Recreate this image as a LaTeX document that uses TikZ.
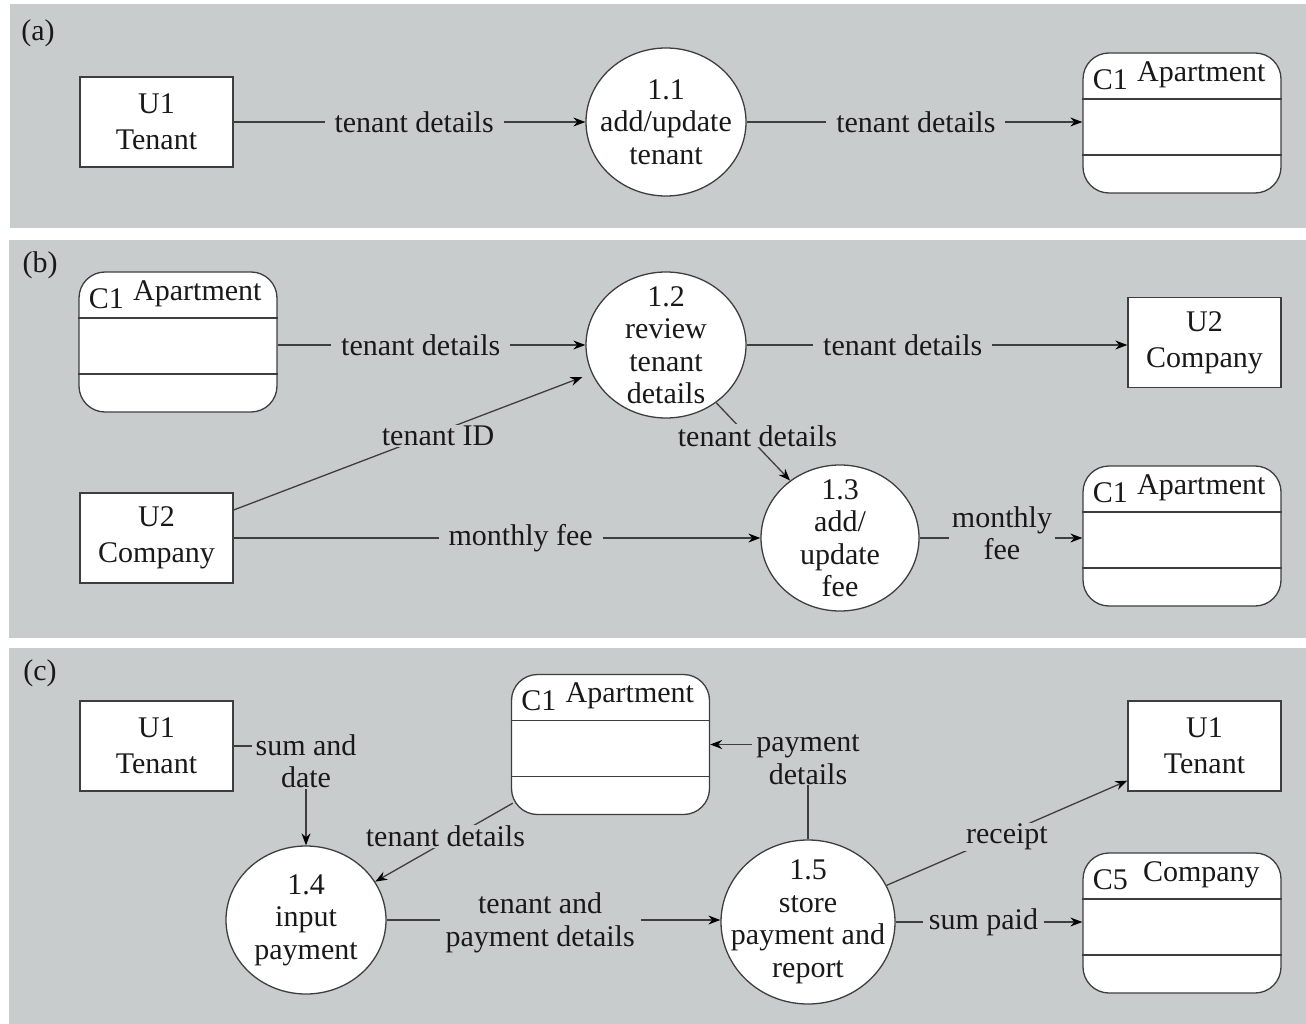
\documentclass[tikz,border=0pt]{standalone}
\usepackage{fontspec}
\setmainfont{Liberation Serif}
\usetikzlibrary{arrows.meta,shapes.geometric,calc}
\definecolor{panel}{RGB}{201,204,205}
\definecolor{ink}{RGB}{62,62,62}
\definecolor{txt}{RGB}{25,25,25}
\newcommand\dfdstore[5]{%
  \node[store] (#1) at (#2,#3) {};
  \draw[sline] ([yshift=24pt]#1.west) -- ([yshift=24pt]#1.east);
  \draw[sline] ([yshift=-32pt]#1.west) -- ([yshift=-32pt]#1.east);
  \node (#1-id) at ([xshift=28pt,yshift=-27pt]#1.north west) {#4};
  \node (#1-title) at ([xshift=119pt,yshift=-22pt]#1.north west) {#5};
}
\newcommand\dfdproc[6]{% name, x, y, w, h, text
  \node[proc, minimum width=#4pt, minimum height=#5pt] (#1) at (#2,#3) {};
  \node[align=center, inner sep=0pt] (#1-t) at (#1.center) {#6};
}
\begin{document}
\begin{tikzpicture}[x=1pt,y=-1pt,
  every node/.style={font=\fontsize{30}{32.5}\selectfont, text=txt},
  ent/.style={draw=ink, line width=1.3pt, fill=white, minimum width=153pt, minimum height=90pt, align=center, inner sep=0pt, font=\fontsize{30}{36}\selectfont},
  proc/.style={ellipse, draw=ink, line width=1.3pt, fill=white, inner sep=0pt},
  store/.style={draw=ink, line width=1.3pt, fill=white, rounded corners=26pt, minimum width=198pt, minimum height=140pt, inner sep=0pt},
  sline/.style={draw=ink, line width=1.3pt},
  flow/.style={draw=ink, line width=1.3pt, -{Stealth[length=12pt,width=9pt,color=black]}},
  lbl/.style={fill=panel, inner xsep=10pt, inner ysep=1pt, align=center}
]
\useasboundingbox (0,0) rectangle (1306,1024);
\fill[white] (0,0) rectangle (1306,1024);
\fill[panel] (10,4) rectangle (1306,228);
\fill[panel] (9,240) rectangle (1306,638);
\fill[panel] (9,648) rectangle (1306,1024);

% ---------- (a)
\node (la) at (38,33) {(a)};
\node[ent] (u1a) at (156.5,122) {U1\\Tenant};
\dfdproc{p11}{666}{122}{160}{148}{1.1\\add/update\\tenant}
\dfdstore{c1a}{1182}{123}{C1}{Apartment}
\draw[flow] (u1a.east) -- node[lbl, pos=0.513]{tenant details} (p11.west);
\draw[flow] (p11.east) -- node[lbl, pos=0.504]{tenant details} (p11.east -| c1a.west);

% ---------- (b)
\node (lb) at (40,265) {(b)};
\dfdstore{c1b}{178}{342}{C1}{Apartment}
\dfdproc{p12}{666}{345}{160}{146}{1.2\\review\\tenant\\details}
\node[ent] (u2b) at (1204.5,342.5) {U2\\Company};
\node[ent] (u2c) at (156.5,538) {U2\\Company};
\dfdproc{p13}{840}{538}{158}{146}{1.3\\add/\\update\\fee}
\dfdstore{c1c}{1182}{536}{C1}{Apartment}
\draw[flow] (c1b.east |- p12.west) -- node[lbl, pos=0.465]{tenant details} (p12.west);
\draw[flow] (p12.east) -- node[lbl, pos=0.41]{tenant details} (p12.east -| u2b.west);
\draw[flow, shorten >=10pt] ([yshift=28pt]u2c.east) -- node[lbl, pos=0.571, yshift=-4pt, inner xsep=3pt]{tenant ID} (p12.201);
\draw[flow] (p12.311) -- node[lbl, pos=0.45, xshift=8pt, yshift=2pt, inner xsep=2pt]{tenant details} (p13.131);
\draw[flow] (u2c.east) -- node[lbl, pos=0.545]{monthly fee} (p13.west);
\draw[flow] (p13.east) -- node[lbl, pos=0.506, yshift=5pt, inner xsep=3pt]{monthly\\fee} (p13.east -| c1c.west);

% ---------- (c)
\node (lc) at (40,673) {(c)};
\node[ent] (u1c) at (156.5,746) {U1\\Tenant};
\dfdstore{c1d}{610.5}{744.5}{C1}{Apartment}
\node[ent] (u1d) at (1204.5,746) {U1\\Tenant};
\dfdproc{p14}{306}{920}{160}{148}{1.4\\input\\payment}
\dfdproc{p15}{808}{922}{174}{164}{1.5\\store\\payment and\\report}
\dfdstore{c5}{1182}{923}{C5}{Company}
\draw[flow] (u1c.east) -| node[lbl, pos=0.5, yshift=-15pt, inner xsep=4pt]{sum and\\date} (p14.north);
\draw[flow] ([xshift=2pt,yshift=12pt]c1d.south west) -- node[lbl, pos=0.49, yshift=5pt, inner xsep=3pt]{tenant details} (p14.29);
\draw[flow] (p14.east) -- node[lbl, pos=0.46, yshift=-3pt, inner xsep=6pt]{tenant and\\payment details} (p14.east -| p15.west);
\draw[flow] (p15.north) |- node[lbl, pos=0.5, yshift=-15pt, inner xsep=4pt]{payment\\details} (c1d.east);
\draw[flow] (p15.25) -- node[lbl, pos=0.5, yshift=-4pt, inner xsep=3pt]{receipt} ([yshift=11pt]u1d.south west);
\draw[flow] (p15.east) -- node[lbl, pos=0.47, inner xsep=6pt]{sum paid} (p15.east -| c5.west);
\end{tikzpicture}
\end{document}
